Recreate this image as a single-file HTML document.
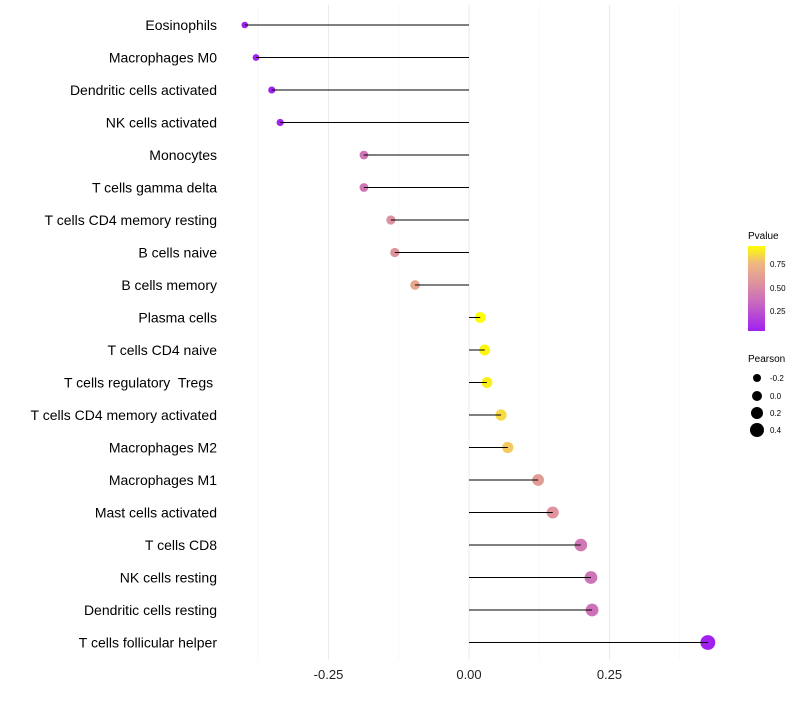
<!DOCTYPE html>
<html><head><meta charset="utf-8"><style>
body{margin:0;background:#fff;font-family:"Liberation Sans",sans-serif}
</style></head><body>
<svg id="chart" width="800" height="700">
<defs><linearGradient id="pg" x1="0" y1="1" x2="0" y2="0">
<stop offset="0" stop-color="#a020f0"/><stop offset="0.33" stop-color="#c868c0"/><stop offset="0.55" stop-color="#dc90a0"/><stop offset="0.8" stop-color="#f0b880"/><stop offset="1" stop-color="#ffff00"/></linearGradient></defs>
<g id="grid"></g><g id="marks"></g><g id="labels"></g>
<g>
<text x="748" y="239" font-size="10">Pvalue</text>
<rect x="748" y="246" width="17" height="85" fill="url(#pg)"/>
<text x="770" y="267" font-size="8">0.75</text><text x="770" y="291" font-size="8">0.50</text><text x="770" y="314" font-size="8">0.25</text>
</g>
<g>
<text x="748" y="362" font-size="10">Pearson</text>
<circle cx="757" cy="378" r="4"/><text x="770" y="381" font-size="8">-0.2</text>
<circle cx="757" cy="396" r="5"/><text x="770" y="399" font-size="8">0.0</text>
<circle cx="757" cy="413" r="6"/><text x="770" y="416" font-size="8">0.2</text>
<circle cx="757" cy="430" r="7"/><text x="770" y="433" font-size="8">0.4</text>
</g>
</svg>
<script>
const categories=["Eosinophils","Macrophages M0","Dendritic cells activated","NK cells activated","Monocytes","T cells gamma delta","T cells CD4 memory resting","B cells naive","B cells memory","Plasma cells","T cells CD4 naive","T cells regulatory  Tregs ","T cells CD4 memory activated","Macrophages M2","Macrophages M1","Mast cells activated","T cells CD8","NK cells resting","Dendritic cells resting","T cells follicular helper"];
const pearson=[-0.399,-0.379,-0.351,-0.336,-0.187,-0.187,-0.139,-0.132,-0.096,0.020,0.028,0.032,0.057,0.069,0.123,0.149,0.199,0.217,0.219,0.425];
const pvalue=[0.02,0.03,0.05,0.06,0.40,0.40,0.55,0.57,0.68,0.95,0.93,0.91,0.86,0.82,0.62,0.57,0.42,0.39,0.38,0.05];
const xTicks=[-0.25,0,0.25];
const xTickLabels=["-0.25","0.00","0.25"];
const minorTicks=[-0.375,-0.125,0.125,0.375];
const ns="http://www.w3.org/2000/svg";
const xs=v=>469+v*562;
const ys=i=>25+i*32.5;
function col(p){const st=[[0.05,[160,32,240]],[0.33,[200,104,192]],[0.55,[220,144,160]],[0.78,[240,184,128]],[0.95,[255,255,0]]];
 if(p<=st[0][0])return `rgb(${st[0][1]})`;
 for(let k=1;k<st.length;k++){if(p<=st[k][0]){const t=(p-st[k-1][0])/(st[k][0]-st[k-1][0]);const a=st[k-1][1],b=st[k][1];return `rgb(${a.map((c,j)=>Math.round(c+(b[j]-c)*t)).join(',')})`;}}
 return "rgb(255,255,0)";}
function rad(v){return Math.max(1.7,4.3+(v+0.2)*5);}
function el(t,a,p){const e=document.createElementNS(ns,t);for(const k in a)e.setAttribute(k,a[k]);p.appendChild(e);return e;}
const g=document.getElementById('grid'),m=document.getElementById('marks'),L=document.getElementById('labels');
minorTicks.forEach(v=>{const l=el('line',{x1:xs(v),x2:xs(v),y1:5,y2:660,stroke:'#f4f4f4','stroke-width':0.6},g);

});
xTicks.forEach((v,i)=>{const l=el('line',{x1:xs(v),x2:xs(v),y1:5,y2:660,stroke:'#ebebeb','stroke-width':1.1},g);


const t=el('text',{x:xs(v),y:679,'font-size':13,'text-anchor':'middle',fill:'#222'},L);t.textContent=xTickLabels[i];

});
categories.forEach((c,i)=>{const y=ys(i);
const t=el('text',{x:217,y:y+5,'font-size':14,'text-anchor':'end',fill:'#000','xml:space':'preserve'},L);t.style.whiteSpace='pre';t.textContent=c;


const ci=el('circle',{cx:xs(pearson[i]),cy:y,r:rad(pearson[i]),fill:col(pvalue[i])},m);


const s=el('line',{x1:xs(0),x2:xs(pearson[i]),y1:y,y2:y,stroke:'#000','stroke-width':1},m);

});
</script>
</body></html>
